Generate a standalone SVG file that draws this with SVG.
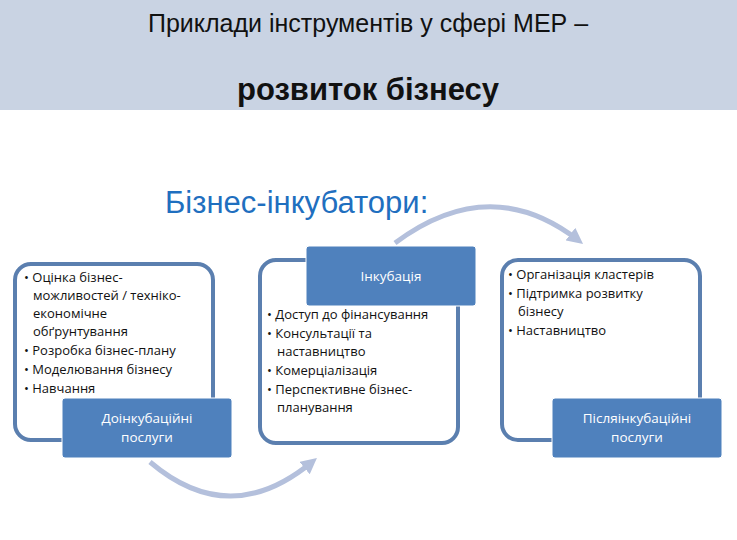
<svg xmlns="http://www.w3.org/2000/svg" width="737" height="540" viewBox="0 0 737 540">
<defs>
<style>
.frame{fill:#fff;stroke:#5b7faf;stroke-width:4}
.lab{fill:#4f81bd;stroke:#fff;stroke-width:1}
.lt{font-family:"Open Sans","Liberation Sans",sans-serif;font-size:13.5px;fill:#fff;text-anchor:middle}
.bt{font-family:"Open Sans","Liberation Sans",sans-serif;font-size:13px;fill:#111}
.arc{fill:none;stroke:#b4c0dc;stroke-width:5}
</style>
<marker id="ah" viewBox="0 0 10 10" refX="6" refY="5" markerWidth="3.2" markerHeight="3.2" orient="auto"><path d="M0,0 L10,5 L0,10 z" fill="#b4c0dc"/></marker>
</defs>
<rect x="0" y="0" width="737" height="110" fill="#c9d3e3"/>
<text x="368" y="32" font-family="Liberation Sans,Arial,sans-serif" font-size="25" text-anchor="middle" fill="#111">Приклади інструментів у сфері МЕР –</text>
<text x="368" y="100" font-family="Liberation Sans,Arial,sans-serif" font-size="31" font-weight="bold" text-anchor="middle" fill="#111">розвиток бізнесу</text>
<text x="165" y="213" font-family="Liberation Sans,Arial,sans-serif" font-size="31" fill="#1f6fbf">Бізнес-інкубатори:</text>
<g id="connectors">
<path class="arc" d="M150,462 Q230,530 312,462" marker-end="url(#ah)"/>
<path class="arc" d="M395,243 Q490,172 578,240" marker-end="url(#ah)"/>
</g>
<g id="pre">
<rect class="frame" x="15" y="264" width="198" height="176" rx="16"/>
<text class="bt" x="24" y="282"><tspan>• Оцінка бізнес-</tspan><tspan x="33" dy="18">можливостей / техніко-</tspan><tspan x="33" dy="18">економічне</tspan><tspan x="33" dy="18">обґрунтування</tspan><tspan x="24" dy="19">• Розробка бізнес-плану</tspan><tspan x="24" dy="19">• Моделювання бізнесу</tspan><tspan x="24" dy="19">• Навчання</tspan></text>
<rect class="lab" x="62" y="398" width="170" height="60" rx="3"/>
<text class="lt" x="147" y="423"><tspan>Доінкубаційні</tspan><tspan x="147" dy="19">послуги</tspan></text>
</g>
<g id="inc">
<rect class="frame" x="260" y="260" width="198" height="183" rx="16"/>
<rect class="lab" x="306" y="246" width="170" height="60" rx="3"/>
<text class="lt" x="391" y="281">Інкубація</text>
<text class="bt" x="267" y="319"><tspan>• Доступ до фінансування</tspan><tspan x="267" dy="19">• Консультації та</tspan><tspan x="277" dy="18">наставництво</tspan><tspan x="267" dy="19">• Комерціалізація</tspan><tspan x="267" dy="19">• Перспективне бізнес-</tspan><tspan x="277" dy="18">планування</tspan></text>
</g>
<g id="post">
<rect class="frame" x="502" y="260" width="198" height="180" rx="16"/>
<text class="bt" x="508" y="279"><tspan>• Організація кластерів</tspan><tspan x="508" dy="19">• Підтримка розвитку</tspan><tspan x="518" dy="18">бізнесу</tspan><tspan x="508" dy="19">• Наставництво</tspan></text>
<rect class="lab" x="552" y="398" width="170" height="60" rx="3"/>
<text class="lt" x="637" y="423"><tspan>Післяінкубаційні</tspan><tspan x="637" dy="19">послуги</tspan></text>
</g>
</svg>
